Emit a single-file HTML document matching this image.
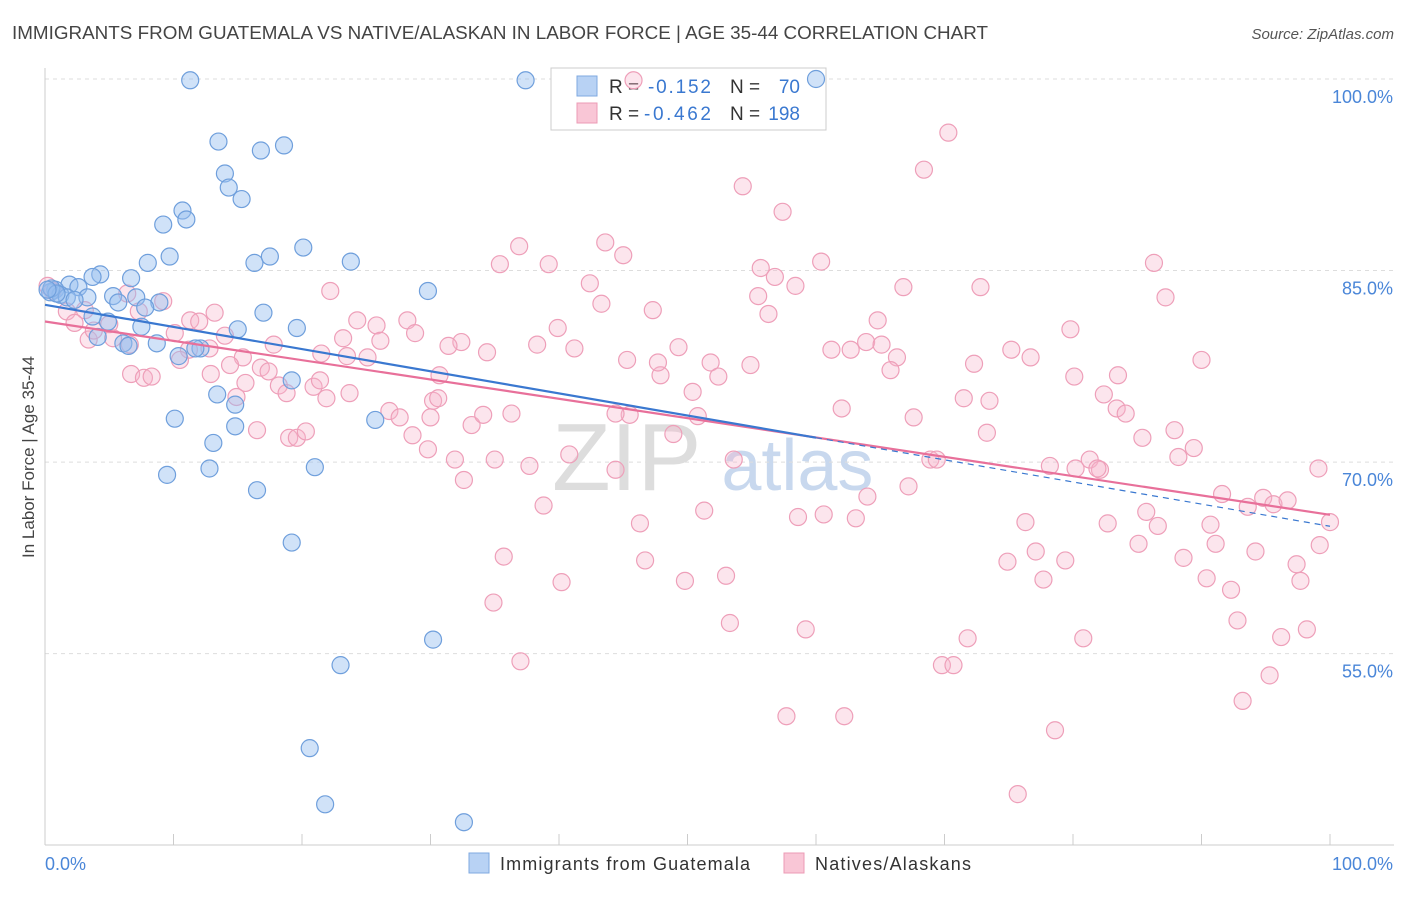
<!DOCTYPE html>
<html><head><meta charset="utf-8"><style>
body{margin:0;background:#fff;font-family:"Liberation Sans",sans-serif;}
svg text{font-family:"Liberation Sans",sans-serif;}
</style></head><body>
<svg id="chart" width="1406" height="892" xmlns="http://www.w3.org/2000/svg">
<text x="12" y="39" font-size="18" fill="#444" textLength="976" lengthAdjust="spacingAndGlyphs">IMMIGRANTS FROM GUATEMALA VS NATIVE/ALASKAN IN LABOR FORCE | AGE 35-44 CORRELATION CHART</text>
<text x="1394" y="39" font-size="15" fill="#555" text-anchor="end" font-style="italic">Source: ZipAtlas.com</text>
<text x="552" y="490" font-size="96" fill="#ddd" font-family="Liberation Serif">ZIP<tspan fill="#c8d8ee" font-family="Liberation Sans" font-size="72"> atlas</tspan></text>
<g id="grid"></g>
<g id="axes"></g>
<g>
<rect x="551" y="68" width="275" height="62" fill="#fff" stroke="#ccc"/>
<rect x="577" y="76" width="20" height="20" fill="#b8d2f4" stroke="#7fa9e0"/>
<rect x="577" y="103" width="20" height="20" fill="#f9c6d6" stroke="#ec9bb5"/>
<text x="609" y="93" font-size="19" fill="#333">R =</text>
<text x="648" y="93" font-size="19" fill="#3a78d0" textLength="63">-0.152</text>
<text x="730" y="93" font-size="19" fill="#333">N =</text>
<text x="800" y="93" font-size="19" fill="#3a78d0" text-anchor="end">70</text>
<text x="609" y="120" font-size="19" fill="#333">R =</text>
<text x="644" y="120" font-size="19" fill="#3a78d0" textLength="67">-0.462</text>
<text x="730" y="120" font-size="19" fill="#333">N =</text>
<text x="800" y="120" font-size="19" fill="#3a78d0" text-anchor="end">198</text>
</g>
<g id="pinkDots"></g>
<g id="blueDots"></g>
<g id="lines"></g>
<text transform="translate(34,457) rotate(-90)" font-size="17" fill="#444" text-anchor="middle">In Labor Force | Age 35-44</text>
<text x="45" y="870" font-size="18" fill="#4a86d8">0.0%</text>
<text x="1393" y="870" font-size="18" fill="#4a86d8" text-anchor="end">100.0%</text>
<g>
<rect x="469" y="853" width="20" height="20" fill="#b8d2f4" stroke="#7fa9e0"/>
<text x="500" y="870" font-size="18" fill="#333" textLength="250">Immigrants from Guatemala</text>
<rect x="784" y="853" width="20" height="20" fill="#f9c6d6" stroke="#ec9bb5"/>
<text x="815" y="870" font-size="18" fill="#333" textLength="156">Natives/Alaskans</text>
</g>
</svg>
<script>
const yTicks=[100,85,70,55];
const yTickLabels=["100.0%","85.0%","70.0%","55.0%"];
const xTicks=[0,10,20,30,40,50,60,70,80,90,100];
const blueX=[11.3,37.4,60.0,13.5,14.0,14.3,15.3,16.8,18.6,10.7,11.0,9.2,9.7,8.0,16.3,17.5,20.1,23.8,29.8,4.3,3.7,6.7,1.9,2.6,0.8,0.4,1.2,1.7,3.3,5.3,5.7,7.1,8.9,7.8,4.9,7.5,3.7,17.0,15.0,19.6,4.1,6.1,6.5,8.7,12.1,10.4,11.7,13.4,14.8,10.1,14.8,25.7,13.1,12.8,9.5,21.0,16.5,19.2,19.2,30.2,23.0,20.6,21.8,32.6,0.5,0.9,0.2,2.3];
const blueY=[99.9,99.9,100,95.1,92.6,91.5,90.6,94.4,94.8,89.7,89.0,88.6,86.1,85.6,85.6,86.1,86.8,85.7,83.4,84.7,84.5,84.4,83.9,83.7,83.5,83.3,83.1,82.9,82.9,83.0,82.5,82.9,82.5,82.1,81.0,80.6,81.4,81.7,80.4,80.5,79.8,79.3,79.1,79.3,78.9,78.3,78.9,75.3,74.5,73.4,72.8,73.3,71.5,69.5,69.0,69.6,67.8,76.4,63.7,56.1,54.1,47.6,43.2,41.8,83.6,83.2,83.5,82.7];
const pinkX=[45.8,70.3,68.4,54.3,57.4,43.6,36.9,45.0,35.4,39.2,55.7,56.8,60.4,58.4,55.5,56.3,42.4,43.3,47.3,66.8,72.8,86.3,87.2,22.2,24.3,25.8,13.2,11.3,12.0,10.1,9.2,7.3,6.4,3.1,1.7,2.3,3.4,3.8,5.3,6.6,5.0,28.2,28.8,26.1,23.2,23.5,25.1,17.8,21.5,32.4,31.4,34.4,39.9,38.3,41.2,45.3,47.9,47.7,49.3,51.8,52.4,54.9,50.4,50.8,61.2,62.7,63.9,65.1,66.3,65.8,64.8,79.8,75.2,76.7,83.5,90.0,83.4,82.4,84.1,85.4,87.9,89.4,88.2,72.3,71.5,73.5,73.3,80.1,81.3,82.1,78.2,80.2,81.9,68.9,69.4,67.2,64.0,62.0,67.6,45.5,44.4,53.6,44.4,48.9,40.8,37.7,38.8,35.0,32.6,33.2,30.0,30.2,26.8,27.6,28.6,29.8,31.9,30.6,30.7,34.1,36.3,15.4,14.4,14.0,12.8,11.2,10.5,12.9,15.6,16.8,17.4,18.2,18.8,20.9,21.4,21.9,23.7,19.0,19.6,20.3,16.5,14.9,6.7,7.7,8.3,46.3,51.3,58.6,60.6,63.1,76.3,82.7,85.7,86.6,90.7,91.6,93.6,94.8,95.6,96.7,100,99.1,91.1,94.2,85.1,77.1,74.9,79.4,77.7,88.6,90.4,92.3,97.4,97.7,99.2,46.7,35.7,40.2,49.8,53.0,34.9,53.3,59.2,71.8,80.8,92.8,96.2,98.2,69.8,70.7,95.3,93.2,37.0,57.7,62.2,78.6,75.7,0.2,0.6];
const pinkY=[99.9,95.8,92.9,91.6,89.6,87.2,86.9,86.2,85.5,85.5,85.2,84.5,85.7,83.8,83.0,81.6,84.0,82.4,81.9,83.7,83.7,85.6,82.9,83.4,81.1,80.7,81.7,81.1,81.0,80.1,82.6,81.8,83.2,81.9,81.8,80.9,79.6,80.3,79.7,79.2,80.8,81.1,80.1,79.5,79.7,78.3,78.2,79.2,78.5,79.4,79.1,78.6,80.5,79.2,78.9,78.0,76.8,77.8,79.0,77.8,76.7,77.6,75.5,73.6,78.8,78.8,79.4,79.2,78.2,77.2,81.1,80.4,78.8,78.2,76.8,78.0,74.2,75.3,73.8,71.9,72.5,71.1,70.4,77.7,75.0,74.8,72.3,76.7,70.2,69.4,69.7,69.5,69.5,70.2,70.2,68.1,67.3,74.2,73.5,73.7,73.8,70.2,69.4,72.2,70.6,69.7,66.6,70.2,68.6,72.9,73.5,74.8,74.0,73.5,72.1,71.0,70.2,75.0,76.8,73.7,73.8,78.2,77.6,79.9,78.9,78.8,78.0,76.9,76.2,77.4,77.1,76.0,75.4,75.9,76.4,75.0,75.4,71.9,71.9,72.4,72.5,75.1,76.9,76.6,76.7,65.2,66.2,65.7,65.9,65.6,65.3,65.2,66.1,65.0,65.1,67.5,66.5,67.2,66.7,67.0,65.3,69.5,63.6,63.0,63.6,63.0,62.2,62.3,60.8,62.5,60.9,60.0,62.0,60.7,63.5,62.3,62.6,60.6,60.7,61.1,59.0,57.4,56.9,56.2,56.2,57.6,56.3,56.9,54.1,54.1,53.3,51.3,54.4,50.1,50.1,49.0,44.0,83.8,83.4];
const NS='http://www.w3.org/2000/svg';
const X0=45,X1=1330,Y100=79,PX_PER=12.77;
function sx(v){return X0+(X1-X0)*v/100;}
function sy(v){return Y100+(100-v)*PX_PER;}
function mk(tag,attrs,parent){const e=document.createElementNS(NS,tag);for(const k in attrs)e.setAttribute(k,attrs[k]);parent.appendChild(e);return e;}
const grid=document.getElementById('grid'),axes=document.getElementById('axes');
yTicks.forEach((t,i)=>{
  const l=mk('line',{x1:45,x2:1394,y1:sy(t),y2:sy(t),stroke:'#ddd','stroke-dasharray':'4,4'},grid);
  
  
  const tx=mk('text',{x:1393,y:sy(t)+24,'font-size':18,fill:'#4a86d8','text-anchor':'end'},grid);
  tx.textContent=yTickLabels[i];
  
  
});
const ya=mk('line',{x1:45,x2:45,y1:68,y2:845,stroke:'#ccc'},axes);


const xa=mk('line',{x1:45,x2:1394,y1:845,y2:845,stroke:'#ccc'},axes);


xTicks.forEach(t=>{
  const l=mk('line',{x1:sx(t),x2:sx(t),y1:834,y2:845,stroke:'#ccc'},axes);
  
  
});
function dots(xs,ys,g,fill,stroke,name){
  xs.forEach((x,i)=>{
    const c=mk('circle',{cx:sx(x),cy:sy(ys[i]),r:8.5,fill:fill,stroke:stroke,'stroke-width':1.2},g);
    
    
  });
}
dots(pinkX,pinkY,document.getElementById('pinkDots'),'rgba(246,180,202,0.35)','#ee9fb9','native-point');
dots(blueX,blueY,document.getElementById('blueDots'),'rgba(150,190,240,0.45)','#6f9fdc','guatemala-point');
function fit(xs,ys){const n=xs.length;let mx=0,my=0;xs.forEach((x,i)=>{mx+=x;my+=ys[i];});mx/=n;my/=n;let sxy=0,sxx=0;xs.forEach((x,i)=>{sxy+=(x-mx)*(ys[i]-my);sxx+=(x-mx)*(x-mx);});const b=sxy/sxx;return [my-b*mx,b];}
const lg=document.getElementById('lines');
const [pa,pb]=fit(pinkX,pinkY);
const pl=mk('line',{x1:sx(0),y1:sy(pa),x2:sx(100),y2:sy(pa+pb*100),stroke:'#e8709a','stroke-width':2.2},lg);


const [ba,bb]=fit(blueX,blueY);
const bmax=Math.max(...blueX);
const bl=mk('line',{x1:sx(0),y1:sy(ba),x2:sx(bmax),y2:sy(ba+bb*bmax),stroke:'#3a78d0','stroke-width':2.2},lg);


const bd=mk('line',{x1:sx(bmax),y1:sy(ba+bb*bmax),x2:sx(100),y2:sy(ba+bb*100),stroke:'#3a78d0','stroke-width':1.2,'stroke-dasharray':'6,5'},lg);


</script>
</body></html>
